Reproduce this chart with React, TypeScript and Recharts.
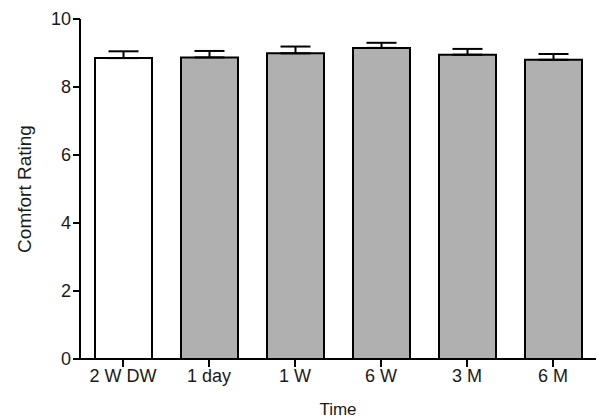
import React from 'react'
import { BarChart, Bar, XAxis, YAxis, ErrorBar, Cell } from 'recharts';

const times = ['2 W DW', '1 day', '1 W', '6 W', '3 M', '6 M'];
const ratings = [8.85, 8.87, 8.99, 9.15, 8.95, 8.8];
const errors = [0.2, 0.19, 0.2, 0.15, 0.17, 0.17];
const yTicks = [0, 2, 4, 6, 8, 10];

const data = times.map((t, i) => ({ time: t, rating: ratings[i], err: [0, errors[i]] }));

const font = '"Liberation Sans", Arial, sans-serif';

const App = () => {
  return (
    <div style={{ position: 'absolute', left: 0, top: 0, background: '#fff', fontFamily: font }}>
      <BarChart width={598} height={418} data={data} margin={{ top: 19, right: 2, bottom: 0, left: 30 }} barCategoryGap={29}>
        <XAxis
          dataKey="time"
          height={59}
          stroke="#000"
          strokeWidth={2}
          tickSize={8}
          tick={{ fill: '#1a1a1a', fontSize: 18, fontFamily: font }}
          label={{ value: 'Time', position: 'insideBottom', offset: 3, fill: '#1a1a1a', fontSize: 17, fontFamily: font }}
        />
        <YAxis
          width={50}
          domain={[0, 10]}
          ticks={yTicks}
          stroke="#000"
          strokeWidth={2}
          tickSize={7}
          tick={{ fill: '#1a1a1a', fontSize: 18, fontFamily: font }}
          label={{ value: 'Comfort Rating', angle: -90, position: 'insideLeft', offset: -6, fill: '#1a1a1a', fontSize: 19, fontFamily: font, style: { textAnchor: 'middle' } }}
        />
        <Bar dataKey="rating" barSize={57} stroke="#000" strokeWidth={2} isAnimationActive={false}>
          {data.map((d, i) => (
            <Cell key={d.time} fill={i === 0 ? '#ffffff' : '#b0b0b0'} />
          ))}
          <ErrorBar dataKey="err" width={15} stroke="#000" strokeWidth={2} direction="y" />
        </Bar>
      </BarChart>
    </div>
  );
}

export default App
